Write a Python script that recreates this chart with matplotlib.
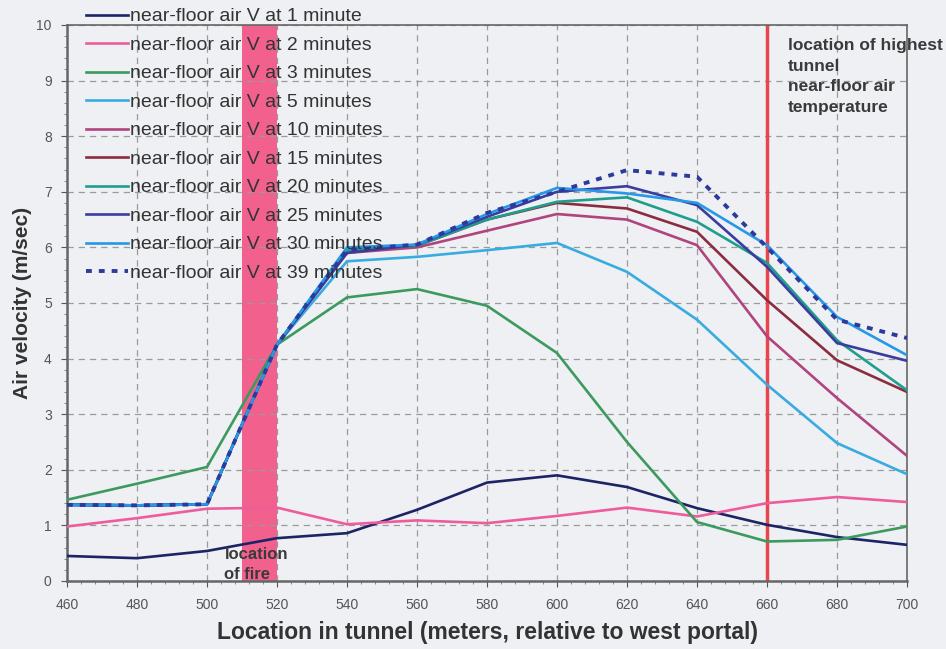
import matplotlib
matplotlib.use("Agg")
import matplotlib.pyplot as plt
from matplotlib.ticker import MultipleLocator

plt.rcParams['font.family'] = ['Liberation Sans', 'DejaVu Sans']

x = [460, 480, 500, 520, 540, 560, 580, 600, 620, 640, 660, 680, 700]
v1 = [0.45, 0.41, 0.54, 0.77, 0.86, 1.28, 1.77, 1.90, 1.69, 1.31, 1.01, 0.79, 0.65]
v2 = [0.98, 1.13, 1.30, 1.32, 1.02, 1.09, 1.04, 1.17, 1.32, 1.16, 1.40, 1.51, 1.42]
v3 = [1.46, 1.75, 2.05, 4.25, 5.10, 5.25, 4.95, 4.10, 2.50, 1.06, 0.71, 0.74, 0.98]
v5 = [1.37, 1.36, 1.38, 4.25, 5.75, 5.83, 5.95, 6.08, 5.56, 4.70, 3.53, 2.48, 1.92]
v10 = [1.37, 1.36, 1.38, 4.25, 5.90, 6.00, 6.30, 6.60, 6.50, 6.04, 4.40, 3.29, 2.25]
v15 = [1.37, 1.36, 1.38, 4.25, 5.95, 6.03, 6.50, 6.80, 6.70, 6.28, 5.05, 3.97, 3.40]
v20 = [1.37, 1.36, 1.38, 4.25, 5.95, 6.03, 6.50, 6.82, 6.90, 6.46, 5.72, 4.33, 3.43]
v25 = [1.37, 1.36, 1.38, 4.25, 5.90, 6.05, 6.55, 7.00, 7.10, 6.76, 5.65, 4.28, 3.96]
v30 = [1.37, 1.36, 1.38, 4.25, 6.00, 6.05, 6.60, 7.07, 6.97, 6.80, 6.04, 4.75, 4.06]
v39 = [1.37, 1.36, 1.38, 4.25, 5.95, 6.05, 6.62, 7.00, 7.39, 7.27, 6.00, 4.70, 4.37]

labels = ["near-floor air V at 1 minute", "near-floor air V at 2 minutes",
          "near-floor air V at 3 minutes", "near-floor air V at 5 minutes",
          "near-floor air V at 10 minutes", "near-floor air V at 15 minutes",
          "near-floor air V at 20 minutes", "near-floor air V at 25 minutes",
          "near-floor air V at 30 minutes", "near-floor air V at 39 minutes"]
series = [v1, v2, v3, v5, v10, v15, v20, v25, v30, v39]
colors = ["#1c2466", "#ee5c9c", "#3c9a5e", "#38ace0", "#b0447e",
          "#8c2c40", "#1f9e8e", "#3a3c9e", "#2698e8", "#2c3a9c"]
styles = ["-"] * 9 + [(0, (1.5, 1.8))]

fire_span = (510, 520)
hot_loc = 660

bg = "#eef0f3"
fig = plt.figure(figsize=(9.46, 6.49), dpi=100, facecolor=bg)
ax = fig.add_axes([0.0708, 0.1048, 0.888, 0.8567], facecolor=bg)

ax.axvspan(fire_span[0], fire_span[1], color="#f2618e", zorder=1, lw=0)
ax.axvline(hot_loc, color="#e8454f", lw=2.5, zorder=2)

handles = []
for s, c, ls, lab in zip(series, colors, styles, labels):
    lw = 2.8 if ls != "-" else 1.9
    h, = ax.plot(x, s, color=c, lw=lw, linestyle=ls, label=lab, zorder=3)
    handles.append(h)

ax.set_xlim(460, 700)
ax.set_ylim(0, 10)
ax.xaxis.set_major_locator(MultipleLocator(20))
ax.yaxis.set_major_locator(MultipleLocator(1))
ax.xaxis.set_minor_locator(MultipleLocator(4))
ax.yaxis.set_minor_locator(MultipleLocator(0.2))
ax.grid(True, which="major", linestyle=(0, (5, 4)), color="#9a9a9a", lw=0.9, zorder=0)
ax.tick_params(which="major", length=4, color="#555555", labelsize=10, labelcolor="#555555")
ax.tick_params(which="minor", length=2, color="#777777")
ax.tick_params(axis="x", pad=8)
ax.tick_params(axis="y", pad=7)
for sp in ax.spines.values():
    sp.set_color("#666666")
    sp.set_linewidth(1.2)
ax.spines["left"].set_linewidth(1.8)
ax.spines["bottom"].set_linewidth(1.8)

ax.set_xlabel("Location in tunnel (meters, relative to west portal)", fontsize=16.5,
              fontweight="bold", color="#333333", labelpad=7)
ax.set_ylabel("Air velocity (m/sec)", fontsize=15, fontweight="bold",
              color="#333333", labelpad=3)

ax.text(505, 0.62, "location\nof fire", fontsize=12, fontweight="bold",
        color="#3a3a3a", va="top", ha="left", linespacing=1.45, zorder=4)
ax.text(666, 9.76, "location of highest\ntunnel\nnear-floor air\ntemperature",
        fontsize=12.5, fontweight="bold", color="#3a3a3a", va="top", ha="left",
        linespacing=1.45, zorder=4, clip_on=False)

leg = ax.legend(handles=handles, loc="upper left", bbox_to_anchor=(0.013, 1.045),
                frameon=False, fontsize=14, labelspacing=0.56, handlelength=2.2,
                handletextpad=0.08, borderaxespad=0)
for t in leg.get_texts():
    t.set_color("#333333")
leg.set_zorder(5)

fig.savefig("out.png", dpi=100, facecolor=bg)
